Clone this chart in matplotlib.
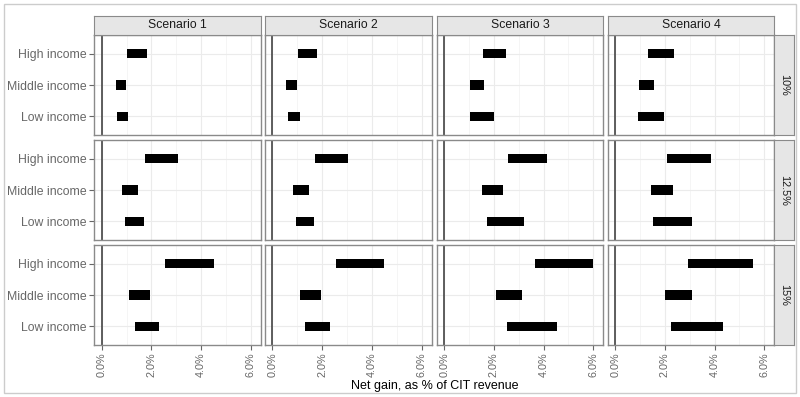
import matplotlib
matplotlib.use("Agg")
import matplotlib.pyplot as plt
from matplotlib.patches import Rectangle

plt.rcParams['font.family'] = ['Liberation Sans', 'DejaVu Sans']

scenarios = ["Scenario 1", "Scenario 2", "Scenario 3", "Scenario 4"]
rates = ["10%", "12.5%", "15%"]
incomes = ["Low income", "Middle income", "High income"]

# min / max net gain (% of CIT revenue), per scenario: [low, middle, high]
gain_min_10 = [[0.62, 0.56, 1.01], [0.63, 0.56, 1.02], [1.02, 1.02, 1.57], [0.91, 0.97, 1.34]]
gain_max_10 = [[1.07, 0.98, 1.80], [1.09, 0.98, 1.80], [2.01, 1.61, 2.50], [1.95, 1.57, 2.36]]
gain_min_125 = [[0.95, 0.83, 1.73], [0.95, 0.83, 1.72], [1.74, 1.54, 2.55], [1.52, 1.46, 2.07]]
gain_max_125 = [[1.68, 1.45, 3.05], [1.68, 1.45, 3.02], [3.22, 2.36, 4.13], [3.09, 2.32, 3.84]]
gain_min_15 = [[1.32, 1.10, 2.54], [1.32, 1.10, 2.54], [2.54, 2.08, 3.66], [2.23, 1.99, 2.91]]
gain_max_15 = [[2.31, 1.95, 4.50], [2.31, 1.95, 4.47], [4.54, 3.14, 6.00], [4.35, 3.09, 5.54]]

gain_min = [gain_min_10, gain_min_125, gain_min_15]
gain_max = [gain_max_10, gain_max_125, gain_max_15]

x_ticks = [0, 2, 4, 6]
x_tick_labels = ["0.0%", "2.0%", "4.0%", "6.0%"]

W, H = 800, 397
fig = plt.figure(figsize=(8, 3.97), dpi=100)

# light frame round the whole image
fig.patches.append(Rectangle((4 / W, 4 / H), 792 / W, 389 / H, transform=fig.transFigure,
                             fill=False, edgecolor='#cccccc', linewidth=1))

col_left = [94.3, 265.0, 436.7, 607.7]
col_w = 166.6
row_top = [35.0, 140.0, 245.0]
row_h = 100.0
border = '#8a8a8a'
txt_grey = '#676767'

def fx(px):
    return px / W

def fy(py):
    return 1 - py / H

for r in range(3):
    for c in range(4):
        ax = fig.add_axes([fx(col_left[c]), fy(row_top[r] + row_h), fx(col_w), row_h / H])
        ax.set_xlim(-0.3, 6.4)
        ax.set_ylim(-0.6, 2.6)
        ax.set_xticks(x_ticks)
        ax.set_xticks([1, 3, 5], minor=True)
        ax.set_yticks(range(len(incomes)))
        ax.grid(True, which='major', color='#ebebeb', linewidth=0.8)
        ax.grid(True, which='minor', axis='x', color='#f2f2f2', linewidth=0.5)
        ax.set_axisbelow(True)
        for s in ax.spines.values():
            s.set_color(border)
            s.set_linewidth(1.0)
        ax.axvline(0, color='#444444', linewidth=1.2, zorder=1)
        lo = gain_min[r][c]
        hi = gain_max[r][c]
        ax.barh(range(len(incomes)), [h - l for l, h in zip(lo, hi)], left=lo,
                height=0.29, color='black', zorder=3)
        ax.tick_params(which='minor', length=0)
        ax.tick_params(which='major', length=3.5, width=0.8, color='#666666',
                       labelsize=8.8, labelcolor=txt_grey, pad=2)
        if c == 0:
            ax.set_yticklabels(incomes)
        else:
            ax.tick_params(axis='y', length=0, labelleft=False)
        if r == 2:
            ax.set_xticklabels(x_tick_labels, rotation=90, va='top', ha='center',
                               fontsize=7.8)
        else:
            ax.tick_params(axis='x', length=0, labelbottom=False)

        # top strips
        if r == 0:
            sax = fig.add_axes([fx(col_left[c]), fy(35.0), fx(col_w), 19.0 / H])
            sax.set_facecolor('#e6e6e6')
            sax.set_xticks([])
            sax.set_yticks([])
            for s in sax.spines.values():
                s.set_color(border)
            sax.text(0.5, 0.5, scenarios[c], ha='center', va='center',
                     fontsize=8.8, color='#1a1a1a', transform=sax.transAxes)
        # right strips
        if c == 3:
            sax = fig.add_axes([fx(774.3), fy(row_top[r] + row_h), fx(20.0), row_h / H])
            sax.set_facecolor('#e6e6e6')
            sax.set_xticks([])
            sax.set_yticks([])
            for s in sax.spines.values():
                s.set_color(border)
            sax.text(0.5, 0.5, rates[r], ha='center', va='center', rotation=-90,
                     fontsize=7.8, color='#1a1a1a', transform=sax.transAxes)

fig.text(fx(434.5), fy(386), "Net gain, as % of CIT revenue", ha='center', va='center',
         fontsize=9, color='black')

fig.savefig("out.png", dpi=100)
